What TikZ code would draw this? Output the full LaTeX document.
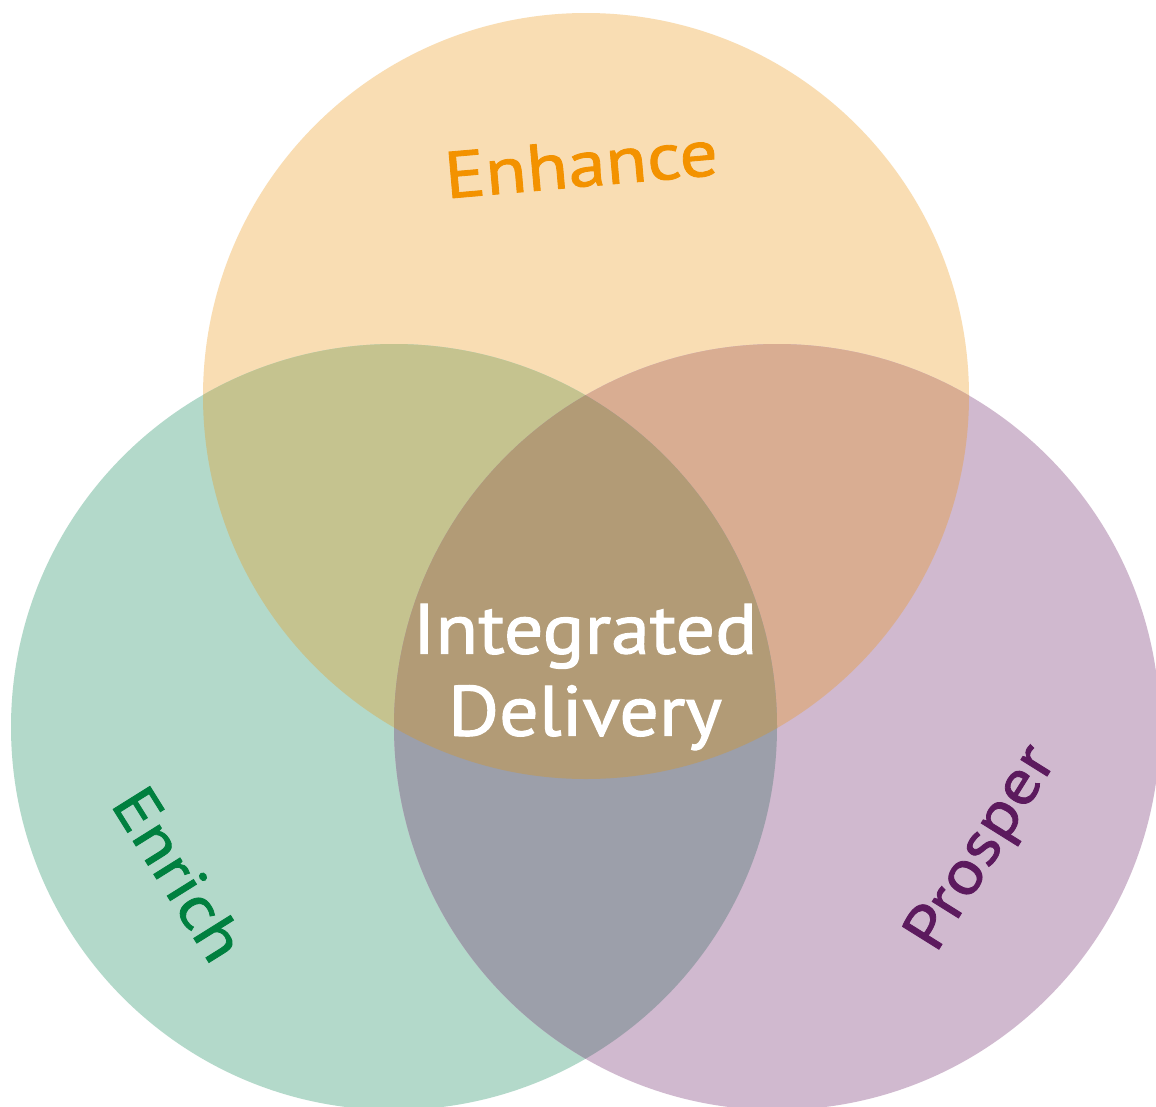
\documentclass[tikz,border=0pt]{standalone}
\usepackage{fontspec}
\setmainfont{PT Sans}
\newfontfamily\labelfont[FakeStretch=1.15,FakeBold=1.3]{PT Sans}
\newfontfamily\centrefont[FakeStretch=1.1,FakeBold=1.6]{PT Sans}
% region colours
\definecolor{topC}{HTML}{F9DDB3}
\definecolor{leftC}{HTML}{B3D9CA}
\definecolor{rightC}{HTML}{D0B9CF}
\definecolor{tlC}{HTML}{C5C38F}
\definecolor{trC}{HTML}{D9AD92}
\definecolor{lrC}{HTML}{9C9FAA}
\definecolor{allC}{HTML}{B29B76}
% label colours
\definecolor{enhanceC}{HTML}{F39200}
\definecolor{enrichC}{HTML}{00803F}
\definecolor{prosperC}{HTML}{5C1A5E}
\tikzset{
  label text/.style={font=\labelfont\fontsize{66}{72}\selectfont, inner sep=0pt},
  side text/.style={font=\labelfont\fontsize{62}{68}\selectfont, inner sep=0pt},
  centre text/.style={font=\centrefont\fontsize{71}{82}\selectfont, text=white, align=center, inner sep=0pt},
}
\newcommand{\topcircle}{(586,396) circle[radius=383]}
\newcommand{\leftcircle}{(394,727) circle[radius=383]}
\newcommand{\rightcircle}{(777,727) circle[radius=383]}
\begin{document}
\begin{tikzpicture}[x=1pt,y=-1pt]
\useasboundingbox (0,0) rectangle (1156,1106);
\clip (0,0) rectangle (1156,1106);
\fill[white] (0,0) rectangle (1156,1106);
% single circles
\fill[topC] \topcircle;
\fill[leftC] \leftcircle;
\fill[rightC] \rightcircle;
% pairwise overlaps
\begin{scope}
  \clip \topcircle;
  \fill[tlC] \leftcircle;
  \fill[trC] \rightcircle;
\end{scope}
\begin{scope}
  \clip \leftcircle;
  \fill[lrC] \rightcircle;
\end{scope}
% common centre
\begin{scope}
  \clip \topcircle;
  \clip \leftcircle;
  \fill[allC] \rightcircle;
\end{scope}
% labels
\node[label text, text=enhanceC, rotate=5] (enhance) at (581,164) {Enhance};
\node[side text, text=enrichC, rotate=-58] (enrich) at (179,874) {Enrich};
\node[side text, text=prosperC, rotate=58] (prosper) at (983,849) {Prosper};
\node[centre text] (centre) at (585,677) {Integrated\\Delivery};
\end{tikzpicture}
\end{document}
